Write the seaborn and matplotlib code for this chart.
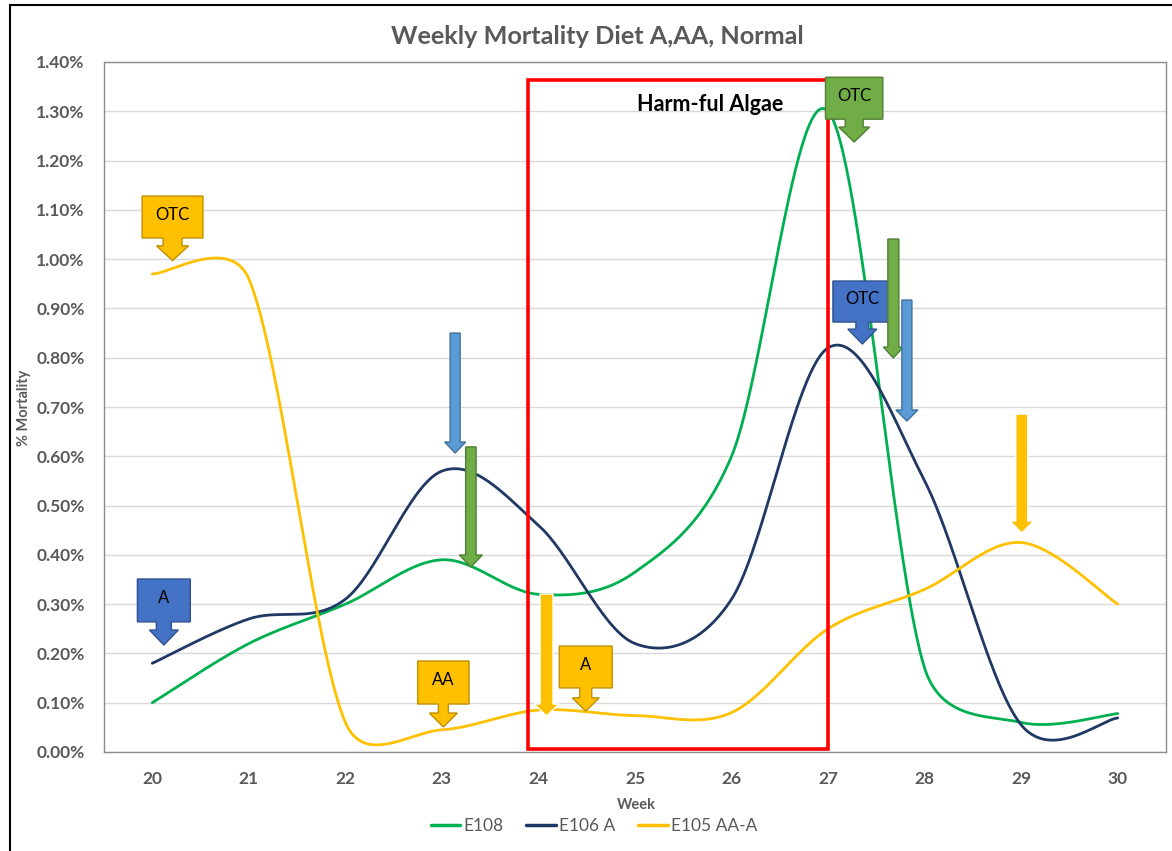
import numpy as np
import pandas as pd
import matplotlib
matplotlib.use("Agg")
import matplotlib.pyplot as plt
import seaborn as sns
from matplotlib.patches import Polygon, Rectangle
from matplotlib.ticker import FuncFormatter

# Weekly mortality (%) per diet group
weeks = [20, 21, 22, 23, 24, 25, 26, 27, 28, 29, 30]
e108 = [0.10, 0.22, 0.30, 0.39, 0.32, 0.365, 0.60, 1.30, 0.17, 0.06, 0.078]
e106_a = [0.18, 0.27, 0.31, 0.57, 0.46, 0.22, 0.31, 0.82, 0.55, 0.055, 0.069]
e105_aa_a = [0.97, 0.96, 0.06, 0.045, 0.085, 0.074, 0.08, 0.25, 0.33, 0.425, 0.30]

series_names = ["E108", "E106 A", "E105 AA-A"]
series_values = [e108, e106_a, e105_aa_a]
series_colors = ["#00B050", "#1F3864", "#FFC000"]
week_labels = [str(w) for w in weeks]
y_ticks = [i / 10 for i in range(15)]

TITLE = "Weekly Mortality Diet A,AA, Normal"
GREY = "#595959"

# pixel size of one week / one percent on the plot, used for smoothing distances
PX_PER_WEEK = 96.6
PX_PER_PCT = 492.9


def smooth_curve(xs, ys, n=60):
    """Bezier smoothing through every point; control arms are 1/6 of the
    neighbour chord, capped at half the segment length."""
    P = np.column_stack([np.asarray(xs, float) * PX_PER_WEEK,
                         np.asarray(ys, float) * PX_PER_PCT])
    m = len(P)
    f = 1.0 / 6.0
    t = np.linspace(0, 1, n)[:, None]
    pieces = []
    for i in range(m - 1):
        p0 = P[i - 1] if i > 0 else P[i]
        p1, p2 = P[i], P[i + 1]
        p3 = P[i + 2] if i + 2 < m else P[i + 1]
        d12 = np.hypot(*(p2 - p1))
        d02 = np.hypot(*(p2 - p0))
        d13 = np.hypot(*(p3 - p1))
        a1 = (p2 - p0) * f
        if d02 * f > d12 / 2:
            a1 = (p2 - p0) * (d12 / 2) / d02
        a2 = (p3 - p1) * f
        if d13 * f > d12 / 2:
            a2 = (p3 - p1) * (d12 / 2) / d13
        c1 = p1 + a1
        c2 = p2 - a2
        B = ((1 - t) ** 3) * p1 + 3 * ((1 - t) ** 2) * t * c1 \
            + 3 * (1 - t) * t ** 2 * c2 + t ** 3 * p2
        pieces.append(B if i == 0 else B[1:])
    B = np.vstack(pieces)
    return B[:, 0] / PX_PER_WEEK, B[:, 1] / PX_PER_PCT


frames = []
for name, vals in zip(series_names, series_values):
    sx, sy = smooth_curve(weeks, vals)
    frames.append(pd.DataFrame({"Week": sx, "Mortality": sy, "Series": name}))
curves = pd.concat(frames, ignore_index=True)

sns.set_theme(style="white")
plt.rcParams["font.family"] = ["Lato", "DejaVu Sans"]

fig = plt.figure(figsize=(11.72, 8.51), dpi=100)
ax = fig.add_axes([104 / 1172, 1 - 752 / 851, 1062 / 1172, 690 / 851])

sns.lineplot(data=curves, x="Week", y="Mortality", hue="Series",
             palette=dict(zip(series_names, series_colors)),
             hue_order=series_names, sort=False, estimator=None,
             linewidth=2.0, ax=ax, zorder=3)

ax.set_xlim(19.5, 30.5)
ax.set_ylim(0, 1.4)
ax.set_xticks(weeks)
ax.set_xticklabels(week_labels)
ax.set_yticks(y_ticks)
ax.yaxis.set_major_formatter(FuncFormatter(lambda v, p: f"{v:.2f}%"))
ax.grid(axis="y", color="#D9D9D9", linewidth=1.0)
ax.set_axisbelow(True)
for s in ax.spines.values():
    s.set_color("#8C8C8C")
    s.set_linewidth(1.0)
ax.tick_params(axis="both", length=0, labelcolor=GREY, labelsize=12.5)
ax.tick_params(axis="y", pad=14)
ax.tick_params(axis="x", pad=14)
for lab in ax.get_xticklabels() + ax.get_yticklabels():
    lab.set_fontweight("bold")
ax.set_xlabel("")
ax.set_ylabel("")

# Harmful algae period
ax.add_patch(Rectangle((23.892, 0.006), 27.002 - 23.892, 1.3634 - 0.006,
                       fill=False, edgecolor="#FF0000", linewidth=2.6, zorder=5))
ax.text(25.78, 1.314, "Harm-ful Algae", ha="center", va="center",
        fontsize=15.5, fontweight="bold", color="black", zorder=7)


def callout(cx, half_w, y_bot, y_top, shaft_hw, head_hw, head_top, tip,
            face, edge, label):
    pts = [(cx - half_w, y_top), (cx + half_w, y_top), (cx + half_w, y_bot),
           (cx + shaft_hw, y_bot), (cx + shaft_hw, head_top),
           (cx + head_hw, head_top), (cx, tip), (cx - head_hw, head_top),
           (cx - shaft_hw, head_top), (cx - shaft_hw, y_bot),
           (cx - half_w, y_bot)]
    ax.add_patch(Polygon(pts, closed=True, facecolor=face, edgecolor=edge,
                         linewidth=1.0, zorder=6))
    ax.text(cx, (y_bot + y_top) / 2 + 0.005, label, ha="center", va="center",
            fontsize=12, color="black", zorder=6.2)


def block_arrow(cx, top, shaft_hw, head_hw, head_top, tip, face, edge):
    pts = [(cx - shaft_hw, top), (cx + shaft_hw, top), (cx + shaft_hw, head_top),
           (cx + head_hw, head_top), (cx, tip), (cx - head_hw, head_top),
           (cx - shaft_hw, head_top)]
    ax.add_patch(Polygon(pts, closed=True, facecolor=face, edgecolor=edge,
                         linewidth=1.0, zorder=6.5))


YEL, YEL_E = "#FFC000", "#BF9000"
BLU, BLU_E = "#4472C4", "#2F528F"
GRN, GRN_E = "#70AD47", "#507E32"
LBL, LBL_E = "#5B9BD5", "#41719C"

callout(20.21, 0.315, 1.043, 1.128, 0.098, 0.166, 1.027, 0.997, YEL, YEL_E, "OTC")
callout(20.12, 0.274, 0.264, 0.351, 0.078, 0.150, 0.2475, 0.217, BLU, BLU_E, "A")
callout(23.015, 0.266, 0.0974, 0.1846, 0.052, 0.145, 0.0791, 0.0507, YEL, YEL_E, "AA")
callout(24.49, 0.274, 0.130, 0.215, 0.062, 0.140, 0.110, 0.083, YEL, YEL_E, "A")
callout(27.27, 0.297, 1.284, 1.369, 0.093, 0.160, 1.268, 1.2376, GRN, GRN_E, "OTC")
callout(27.355, 0.305, 0.8724, 0.9556, 0.067, 0.150, 0.858, 0.8277, BLU, BLU_E, "OTC")

block_arrow(23.137, 0.850, 0.052, 0.109, 0.629, 0.6066, LBL, LBL_E)
block_arrow(23.30, 0.619, 0.054, 0.119, 0.3997, 0.3753, GRN, GRN_E)
block_arrow(24.084, 0.3206, 0.067, 0.129, 0.0974, 0.073, YEL, "white")
block_arrow(27.676, 1.0408, 0.057, 0.1035, 0.8217, 0.7994, GRN, GRN_E)
block_arrow(27.816, 0.917, 0.052, 0.114, 0.694, 0.6715, LBL, LBL_E)
block_arrow(29.006, 0.6857, 0.062, 0.124, 0.4687, 0.4443, YEL, "white")

# Legend below the axis title
sns.move_legend(ax, "center", bbox_to_anchor=((594 - 104) / 1062, (752 - 826) / 690),
                ncol=3, frameon=False, title=None, fontsize=12.5,
                handlelength=1.7, handletextpad=0.2, columnspacing=1.3)
leg = ax.get_legend()
for txt in leg.get_texts():
    txt.set_color(GREY)
for h in leg.legend_handles:
    h.set_linewidth(2.5)

fig.text(597 / 1172, 1 - 36 / 851, TITLE, ha="center", va="center",
         fontsize=18.2, fontweight="bold", color=GREY)
fig.text(24 / 1172, 1 - 408 / 851, "% Mortality", rotation=90, ha="center",
         va="center", fontsize=10.5, fontweight="bold", color=GREY)
fig.text(636 / 1172, 1 - 805 / 851, "Week", ha="center", va="center",
         fontsize=10.5, fontweight="bold", color=GREY)

# chart frame
fig.add_artist(Rectangle((10 / 1172, -0.1), 1.2, 1.1 - 5 / 851,
                         transform=fig.transFigure, fill=False,
                         edgecolor="black", linewidth=1.5))

fig.savefig("out.png", dpi=100, facecolor="white")
